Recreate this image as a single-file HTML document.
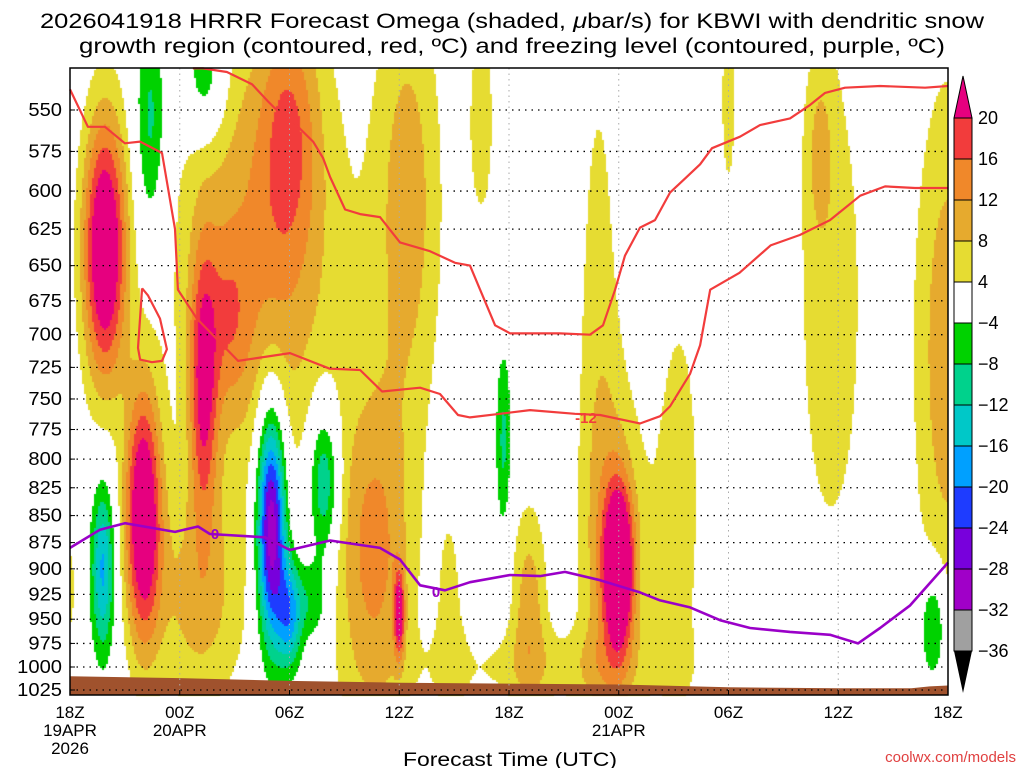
<!DOCTYPE html>
<html><head><meta charset="utf-8">
<style>
html,body{margin:0;padding:0;background:#fff;}
#wrap{position:relative;width:1024px;height:768px;overflow:hidden;font-family:"Liberation Sans",sans-serif;}
canvas,svg{position:absolute;left:0;top:0;}
</style></head>
<body>
<div id="wrap">
<canvas id="cv" width="1024" height="768"></canvas>
<svg id="sv" width="1024" height="768"></svg>
</div>
<script>
// ---- data ----
const pressTicks=[550,575,600,625,650,675,700,725,750,775,800,825,850,875,900,925,950,975,1000,1025];
const timeTicks=[0,6,12,18,24,30,36,42,48];
const timeLabels=["18Z","00Z","06Z","12Z","18Z","00Z","06Z","12Z","18Z"];
const dateLabels=["19APR","20APR","","","","21APR","","",""];
const yearLabels=["2026","","","","","","","",""];
const cbLevels=[20,16,12,8,4,-4,-8,-12,-16,-20,-24,-28,-32,-36];
const cbColors=["#f23c3c","#f0882a","#e6aa2e","#e6dc32","#ffffff","#00d200","#00d28c","#00c8c8","#00a0ff","#1e3cff","#7800dc","#a000c8","#a0a0a0"];
// omega features: hour, pressure (mb), amplitude (ubar/s), spread
const blobHour=[1.9,4.0,7.3,8.7,12,10.5,16.6,18,18.5,7,22.5,28.9,30,30,25.1,33.3,36,41,41.6,48,26,20.8,0,
 1.8,4.4,7.4,11,12,13.9,13.3,23.7,47.2];
const blobPress=[639,850,740,690,561,640,890,944,606,932,556,751,900,880,932,836,544,575,674,713,1000,950,920,
 900,556,530,858,944,820,932,785,958];
const blobAmp=[28,27,18,7,10,12,13,19,10,9,6,6,28,8,10,6,6,6,6,11,5,5,5,
 -17,-10,-10,-34,-18,-15,-8,-9,-11];
const blobSx=[0.85,0.7,0.55,0.8,1.1,3.2,1.5,0.2,1.3,1.8,0.6,0.9,0.55,1.2,0.7,1.0,0.35,0.5,1.6,1.3,5,0.6,0.3,
 0.45,0.6,0.8,0.55,0.5,0.6,0.6,0.3,0.5];
const blobSy=[95,90,95,60,90,170,120,30,160,80,90,300,55,120,70,170,80,60,230,190,30,100,50,
 60,80,45,80,40,55,30,65,40];
// surface
const sfcHour=[0,6,12,18,24,30,36,42,46,47,48];
const sfcPress=[1010,1012,1015,1017,1018,1019,1022,1023,1023,1021,1020];
// dendritic growth contours (red)
const lineAHour=[0,0.98,1.91,3.0,3.83,5.03,5.74,5.9,6.94,7.93,9.19,12.03,14.2,15.86,17.06,19.14,20.23,21.21,21.87,23.51,25.15,27.6,28.98,31.16,32.26,32.8,33.9,34.45,35,36.6,38.3,39.9,41.55,43.2,44.56,46.2,48];
const lineAPress=[538,560,560,570,569,576,625,667,688,702,720,714,726,727,744,741,746,763,765,762,759,762,763,770,764,756,730,708,667,655,636,629,619,603,597,598,598];
const lineBHour=[6.72,7.27,8.58,9.95,10.83,11.48,12.19,13.29,13.83,14.22,15.04,15.86,16.95,18.04,19.68,21.05,21.87,22.42,23.24,24.06,26.79,28.43,29.14,29.8,30.34,31.16,31.98,32.8,33.62,34.45,35.1,36.63,37.72,39.36,40.46,41.28,42.37,44.29,46.75,48];
const lineBPress=[526,526,528,535,545,552,557,569,579,591,612,615,617,634,640,648,650,667,693,699,699,700,693,667,643,624,619,601,592,583,573,566,559,555,547,540,537,536,537,536];
const loopHour=[3.94,4.26,4.92,5.3,5.03,4.48,3.83,3.72,3.94];
const loopPress=[666,671,688,711,720,721,719,710,666];
// freezing level (purple)
const frzHour=[0,1.64,3.0,5.74,7.0,7.65,10.66,12.03,14.22,16.95,18.04,19.14,20.5,21.87,24.06,25.7,27.06,28.98,31.16,32.26,33.9,35.54,37.18,39.36,41.55,43.08,44.29,45.93,48];
const frzPress=[880,863,857,865,860,867,870,882,873,880,891,916,921,913,906,907,903,911,923,931,938,951,959,963,966,975,959,936,894];

// ---- axes ----
const L=70,R=948,T=68,B=695;
const X=h=>L+h*(R-L)/48;
const Y=p=>110+931.7*Math.log(p/550);
const ns="http://www.w3.org/2000/svg";
const sv=document.getElementById('sv');
function mk(tag,attrs,parent){const e=document.createElementNS(ns,tag);for(const k in attrs)e.setAttribute(k,attrs[k]);(parent||sv).appendChild(e);return e;}

function field(h,y){let v=0;for(let i=0;i<blobAmp.length;i++){const dx=(h-blobHour[i])/blobSx[i];const dy=(y-Y(blobPress[i]))/blobSy[i];const d=dx*dx+dy*dy;if(d<30)v+=blobAmp[i]*Math.exp(-d/2);}return v;}
function colorOf(v){if(v>=20)return"#e6007f";if(v<-36)return"#000";for(let i=1;i<cbLevels.length;i++){if(v>=cbLevels[i])return cbColors[i-1];}return"#a0a0a0";}

// shading
const ctx=document.getElementById('cv').getContext('2d');
ctx.fillStyle="#fff";ctx.fillRect(0,0,1024,768);
const st=2;
for(let x=L;x<R;x+=st){const h=(x+st/2-L)/(R-L)*48;for(let y=T;y<B;y+=st){const v=field(h,y+st/2);const c=colorOf(v);if(c!=="#ffffff"){ctx.fillStyle=c;ctx.fillRect(x,y,st,st);}}}

// ground
let gd="M"+L+","+B;
sfcHour.forEach((h,i)=>{gd+=" L"+X(h).toFixed(1)+","+Y(sfcPress[i]).toFixed(1);});
gd+=" L"+R+","+B+" Z";
mk('path',{d:gd,fill:"#a0522d",});

// grid
pressTicks.forEach(p=>{const l=mk('line',{x1:L,x2:R,y1:Y(p),y2:Y(p),stroke:"#000","stroke-width":1.3,"stroke-dasharray":"1.5,5"});

const t=mk('text',{x:62,y:Y(p)+6,"text-anchor":"end","font-size":18,fill:"#000","textLength":String(p).length*11.2,"lengthAdjust":"spacingAndGlyphs"});t.textContent=p;

mk('line',{x1:L,x2:L+5,y1:Y(p),y2:Y(p),stroke:"#000"});});
timeTicks.forEach((h,i)=>{if(i>0&&i<timeTicks.length-1){const l=mk('line',{x1:X(h),x2:X(h),y1:T,y2:B,stroke:"#aaa","stroke-width":1,"stroke-dasharray":"1.5,4"});
}
const t=mk('text',{x:X(h),y:718,"text-anchor":"middle","font-size":17,fill:"#000"});t.textContent=timeLabels[i];

if(dateLabels[i]){const d=mk('text',{x:X(h),y:736,"text-anchor":"middle","font-size":17,fill:"#000"});d.textContent=dateLabels[i];
}
if(yearLabels[i]){const d=mk('text',{x:X(h),y:754,"text-anchor":"middle","font-size":17,fill:"#000"});d.textContent=yearLabels[i];
}
mk('line',{x1:X(h),x2:X(h),y1:B,y2:B-5,stroke:"#000"});});

// contours
function poly(hs,ps,color,w,name){let d="";hs.forEach((h,i)=>{d+=(i?" L":"M")+X(h).toFixed(1)+","+Y(ps[i]).toFixed(1);});
const p=mk('path',{d:d,fill:"none",stroke:color,"stroke-width":w,"stroke-linejoin":"round"});
}
poly(lineAHour,lineAPress,"#f23c3c",2.2,"dendritic-contour-lower");
poly(lineBHour,lineBPress,"#f23c3c",2.2,"dendritic-contour-upper");
poly(loopHour,loopPress,"#f23c3c",2.2,"dendritic-contour-loop");
poly(frzHour,frzPress,"#9a00c8",2.6,"freezing-level-contour");
function lab(x,y,txt,col,name){const t=mk('text',{x:x,y:y,"text-anchor":"middle","font-size":15,"font-weight":"bold",fill:col});t.textContent=txt;
}
lab(215,539,"0","#9a00c8","freezing-label");
lab(436,597,"0","#9a00c8","freezing-label");
lab(586,423,"-12","#f23c3c","dendritic-label");

// border
const bd=mk('rect',{x:L,y:T,width:R-L,height:B-T,fill:"none",stroke:"#000","stroke-width":1.5});


// colorbar
const cbx=954,cbw=18,cbt=118,cbs=41;
const tri=mk('polygon',{points:`${cbx},${cbt} ${cbx+cbw},${cbt} ${cbx+cbw/2},${cbt-42}`,fill:"#e6007f",stroke:"#000"});

cbColors.forEach((c,i)=>{const r=mk('rect',{x:cbx,y:cbt+i*cbs,width:cbw,height:cbs,fill:c,stroke:"#000","stroke-width":1});
});
const tri2=mk('polygon',{points:`${cbx},${cbt+13*cbs} ${cbx+cbw},${cbt+13*cbs} ${cbx+cbw/2},${cbt+13*cbs+42}`,fill:"#000"});

cbLevels.forEach((v,i)=>{const t=mk('text',{x:978,y:cbt+i*cbs+6,"font-size":18,fill:"#000"});t.textContent=v<0?"\u2212"+(-v):v;
});
</script>
<svg width="1024" height="768" style="position:absolute;left:0;top:0;pointer-events:none">
<text x="512" y="28" text-anchor="middle" font-family="Liberation Sans, sans-serif" font-size="21" fill="#000" textLength="944" lengthAdjust="spacingAndGlyphs">2026041918 HRRR Forecast Omega (shaded, <tspan font-style="italic">μ</tspan>bar/s) for KBWI with dendritic snow</text>
<text x="512" y="53" text-anchor="middle" font-family="Liberation Sans, sans-serif" font-size="21" fill="#000" textLength="866" lengthAdjust="spacingAndGlyphs">growth region (contoured, red, ºC) and freezing level (contoured, purple, ºC)</text>
<text x="510" y="766" text-anchor="middle" font-family="Liberation Sans, sans-serif" font-size="19" fill="#000" textLength="214" lengthAdjust="spacingAndGlyphs">Forecast Time (UTC)</text>
<text x="1016" y="762" text-anchor="end" font-family="Liberation Sans, sans-serif" font-size="15" fill="#e04040">coolwx.com/models</text>
</svg>
</body></html>
